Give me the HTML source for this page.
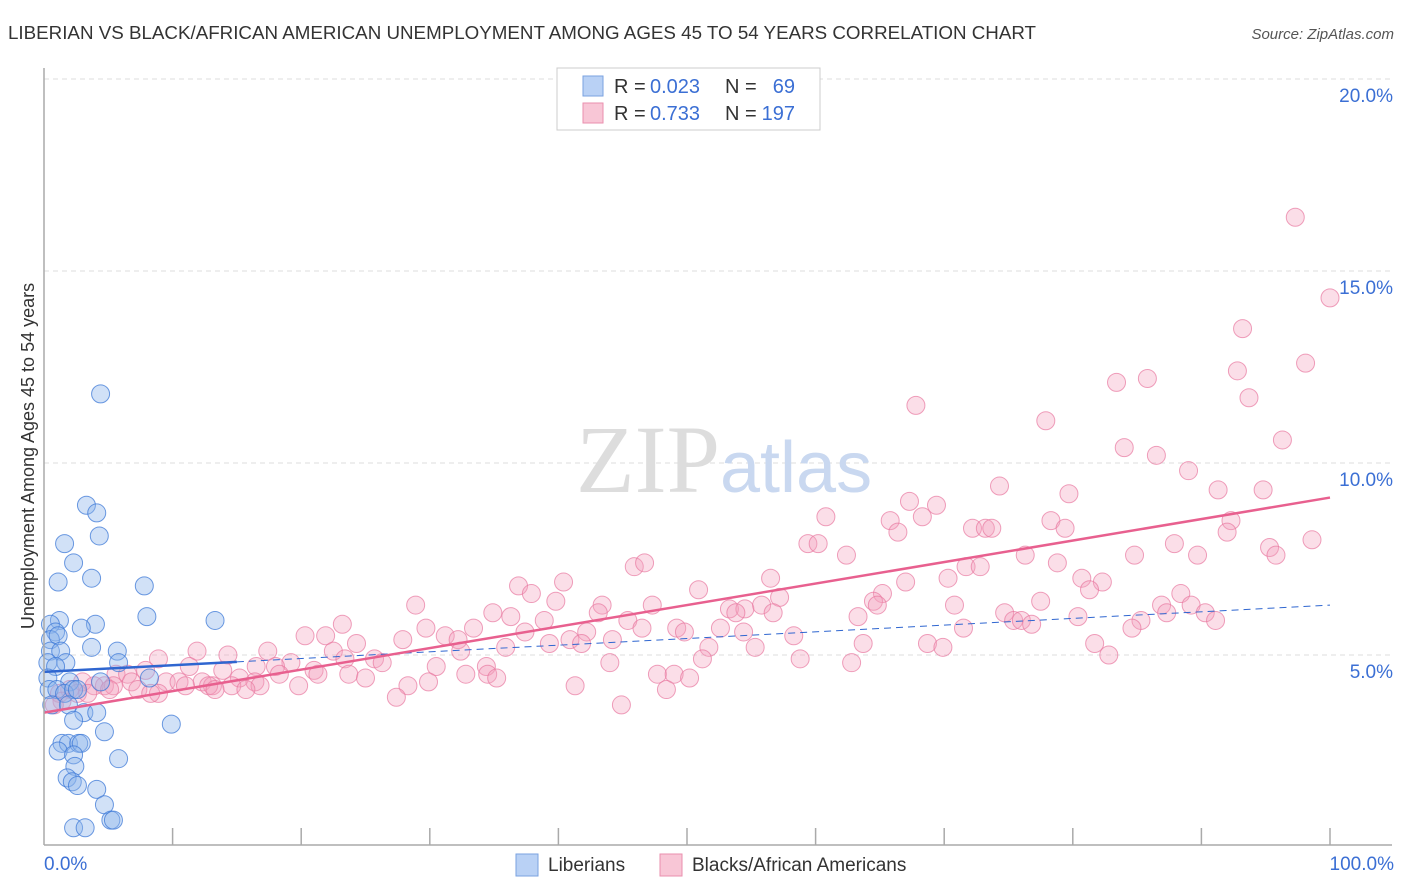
<!DOCTYPE html>
<html><head><meta charset="utf-8"><style>
body{margin:0;background:#fff;font-family:"Liberation Sans",sans-serif;}
svg{display:block}
</style></head><body>
<svg width="1406" height="892" id="chart">
<text x="8" y="39" font-size="18" fill="#333" textLength="1028" lengthAdjust="spacingAndGlyphs">LIBERIAN VS BLACK/AFRICAN AMERICAN UNEMPLOYMENT AMONG AGES 45 TO 54 YEARS CORRELATION CHART</text>
<text x="1394" y="39" font-size="15" fill="#555" font-style="italic" text-anchor="end">Source: ZipAtlas.com</text>
<text x="34" y="456" font-size="18" fill="#333" text-anchor="middle" transform="rotate(-90 34 456)">Unemployment Among Ages 45 to 54 years</text>
<g id="grid"></g>
<text x="720" y="492" font-size="96" fill="#ddd" text-anchor="end" font-family="Liberation Serif,serif">ZIP</text>
<text x="720" y="492" font-size="72" fill="#c9d8f0">atlas</text>
<g id="marks"></g>
<g id="lines"></g>
<line x1="44" y1="68" x2="44" y2="845" stroke="#aaa" stroke-width="1.5"/>
<line x1="44" y1="845" x2="1392" y2="845" stroke="#aaa" stroke-width="1.5"/>
<g id="xticks"></g>
<text x="44" y="870" font-size="19" fill="#3b6fd4">0.0%</text>
<text x="1394" y="870" font-size="19" fill="#3b6fd4" text-anchor="end">100.0%</text>
<g>
<rect x="557" y="68" width="263" height="62" fill="#fff" stroke="#ccc"/>
<rect x="583" y="76" width="20" height="20" fill="#b9d1f5" stroke="#7aa2e0"/>
<rect x="583" y="103" width="20" height="20" fill="#f8c6d6" stroke="#ea8fae"/>
<text x="614" y="93" font-size="20" fill="#333">R =</text>
<text x="650" y="93" font-size="20" fill="#3b6fd4">0.023</text>
<text x="725" y="93" font-size="20" fill="#333">N =</text>
<text x="795" y="93" font-size="20" fill="#3b6fd4" text-anchor="end">69</text>
<text x="614" y="120" font-size="20" fill="#333">R =</text>
<text x="650" y="120" font-size="20" fill="#3b6fd4">0.733</text>
<text x="725" y="120" font-size="20" fill="#333">N =</text>
<text x="795" y="120" font-size="20" fill="#3b6fd4" text-anchor="end">197</text>
</g>
<g>
<rect x="516" y="854" width="22" height="22" fill="#b9d1f5" stroke="#7aa2e0"/>
<text x="548" y="871" font-size="19" fill="#333">Liberians</text>
<rect x="660" y="854" width="22" height="22" fill="#f8c6d6" stroke="#ea8fae"/>
<text x="692" y="871" font-size="19" fill="#333">Blacks/African Americans</text>
</g>
</svg>
<script>
const yTicks=[5,10,15,20];
const yTickLabels=["5.0%","10.0%","15.0%","20.0%"];
const blueX=[4.4,3.3,4.1,1.6,4.3,1.1,2.3,3.7,7.8,8.0,13.3,4.0,2.9,1.2,0.5,0.9,0.5,1.1,3.7,5.7,0.5,1.3,1.7,0.3,5.8,0.9,0.3,8.2,4.4,2.0,0.4,1.0,1.6,2.3,2.6,0.6,1.9,3.1,4.1,2.3,9.9,4.7,1.4,1.9,2.7,2.9,1.1,2.3,5.8,2.4,1.8,2.2,2.6,4.1,4.7,5.2,5.4,2.3,3.2];
const blueY=[11.8,8.9,8.7,7.9,8.1,6.9,7.4,7.0,6.8,6.0,5.9,5.8,5.7,5.9,5.8,5.6,5.4,5.5,5.2,5.1,5.1,5.1,4.8,4.8,4.8,4.7,4.4,4.4,4.3,4.3,4.1,4.1,4.0,4.1,4.1,3.7,3.7,3.5,3.5,3.3,3.2,3.0,2.7,2.7,2.7,2.7,2.5,2.4,2.3,2.1,1.8,1.7,1.6,1.5,1.1,0.7,0.7,0.5,0.5];
const pinkX=[97.3,100,93.2,98.1,92.8,85.8,83.4,93.7,67.8,77.9,96.3,84.0,86.5,89.0,74.3,79.7,91.3,94.8,67.3,69.4,68.3,60.8,65.8,78.3,92.3,72.2,73.2,73.7,79.4,66.4,92.0,98.6,59.4,60.2,87.9,95.3,62.4,84.8,89.7,95.8,76.3,45.9,46.7,71.7,72.8,78.8,56.5,67.0,70.3,80.7,82.3,36.9,40.4,50.9,65.2,81.3,88.4,37.9,57.2,39.8,64.5,64.8,77.5,89.2,28.9,43.4,47.3,53.3,54.5,55.8,70.8,86.9,34.9,43.1,53.8,56.7,74.7,90.3,36.3,80.4,87.3,63.3,38.9,45.4,75.4,76.0,76.8,85.3,91.1,23.2,33.4,46.5,49.2,52.6,71.5,84.6,21.9,29.7,37.4,42.2,49.8,54.4,58.3,20.3,27.9,31.2,32.2,24.3,39.3,40.9,44.2,41.8,55.3,63.7,68.7,81.7,11.9,14.3,17.4,22.5,32.4,35.9,51.7,69.9,23.4,25.7,26.3,19.2,8.9,44.0,51.2,58.8,62.8,82.8,11.3,13.9,16.5,18.0,21.0,30.5,34.4,18.3,21.3,7.9,5.6,6.5,23.7,34.5,32.8,25.0,35.2,15.2,47.7,49.0,50.2,3.0,4.7,6.8,9.5,10.5,12.3,13.1,16.4,29.9,3.9,5.4,7.3,11.0,12.8,14.6,16.8,5.1,8.9,13.3,19.8,28.3,41.3,48.4,2.0,2.6,15.7,1.2,3.4,8.3,1.4,27.4,0.8,44.9];
const pinkY=[16.4,14.3,13.5,12.6,12.4,12.2,12.1,11.7,11.5,11.1,10.6,10.4,10.2,9.8,9.4,9.2,9.3,9.3,9.0,8.9,8.6,8.6,8.5,8.5,8.5,8.3,8.3,8.3,8.3,8.2,8.2,8.0,7.9,7.9,7.9,7.8,7.6,7.6,7.6,7.6,7.6,7.3,7.4,7.3,7.3,7.4,7.0,6.9,7.0,7.0,6.9,6.8,6.9,6.7,6.6,6.7,6.6,6.6,6.5,6.4,6.4,6.3,6.4,6.3,6.3,6.3,6.3,6.2,6.2,6.3,6.3,6.3,6.1,6.1,6.1,6.1,6.1,6.1,6.0,6.0,6.1,6.0,5.9,5.9,5.9,5.9,5.8,5.9,5.9,5.8,5.7,5.7,5.7,5.7,5.7,5.7,5.5,5.7,5.6,5.6,5.6,5.6,5.5,5.5,5.4,5.5,5.4,5.3,5.3,5.4,5.4,5.3,5.2,5.3,5.3,5.3,5.1,5.0,5.1,5.1,5.1,5.2,5.2,5.2,4.9,4.9,4.8,4.8,4.9,4.8,4.9,4.9,4.8,5.0,4.7,4.6,4.7,4.7,4.6,4.7,4.7,4.5,4.5,4.6,4.5,4.5,4.5,4.5,4.5,4.4,4.4,4.4,4.5,4.5,4.4,4.3,4.2,4.3,4.3,4.3,4.3,4.2,4.3,4.3,4.2,4.2,4.1,4.2,4.2,4.2,4.2,4.1,4.0,4.1,4.2,4.2,4.2,4.1,4.1,4.0,4.1,4.0,4.0,4.0,3.8,3.9,3.7,3.7];
const blueTrend=[4.56,6.3];
const pinkTrend=[3.5,9.1];
const NS='http://www.w3.org/2000/svg';
const sx=v=>44+v*12.86;
const sy=v=>847-v*38.4;
function mk(tag,parent,attrs){const e=document.createElementNS(NS,tag);for(const k in attrs)e.setAttribute(k,attrs[k]);document.getElementById(parent).appendChild(e);return e;}
yTicks.forEach((t,i)=>{
 const l=mk('line','grid',{x1:44,x2:1392,y1:sy(t),y2:sy(t),stroke:'#ddd','stroke-dasharray':'5,4'});
 
 
 const tx=mk('text','grid',{x:1393,y:sy(t)+23,'font-size':19,fill:'#3b6fd4','text-anchor':'end'});
 tx.textContent=yTickLabels[i];
 
 
});
for(let i=1;i<=10;i++){
 const l=mk('line','xticks',{x1:sx(i*10),x2:sx(i*10),y1:828,y2:845,stroke:'#aaa','stroke-width':1.5});
 
 
}
pinkX.forEach((x,i)=>{
 const c=mk('circle','marks',{cx:sx(x),cy:sy(pinkY[i]),r:9,fill:'rgba(244,160,190,0.35)',stroke:'rgba(232,120,160,0.7)','stroke-width':1});
 
 
});
blueX.forEach((x,i)=>{
 const c=mk('circle','marks',{cx:sx(x),cy:sy(blueY[i]),r:9,fill:'rgba(140,180,235,0.4)',stroke:'rgba(60,120,215,0.75)','stroke-width':1});
 
 
});
const bAt=x=>blueTrend[0]+(blueTrend[1]-blueTrend[0])*x/100;
let l1=mk('line','lines',{x1:sx(0),y1:sy(bAt(0)),x2:sx(15),y2:sy(bAt(15)),stroke:'#2f66d0','stroke-width':2.5});


let l2=mk('line','lines',{x1:sx(15),y1:sy(bAt(15)),x2:sx(100),y2:sy(bAt(100)),stroke:'#2f66d0','stroke-width':1,'stroke-dasharray':'7,5'});


let l3=mk('line','lines',{x1:sx(0),y1:sy(pinkTrend[0]),x2:sx(100),y2:sy(pinkTrend[1]),stroke:'#e8608f','stroke-width':2.5});


</script>
</body></html>
